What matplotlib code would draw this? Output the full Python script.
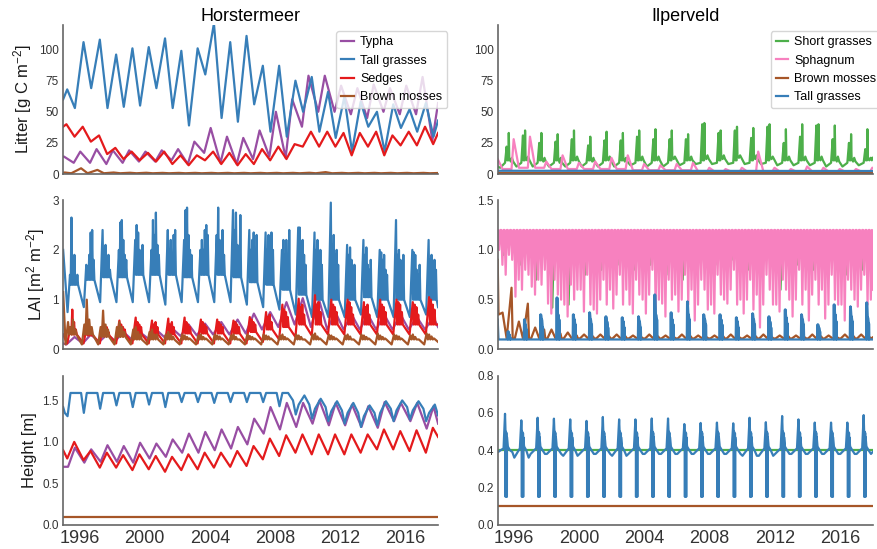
"""Litter, LAI and canopy height per plant functional type, Horstermeer vs Ilperveld."""
import matplotlib

matplotlib.use("Agg")
import matplotlib.pyplot as plt

plt.rcParams["font.family"] = ["Liberation Sans", "DejaVu Sans"]
plt.rcParams["mathtext.fontset"] = "custom"
plt.rcParams["mathtext.rm"] = "Liberation Sans"
plt.rcParams["mathtext.default"] = "regular"

YEARS = list(range(1995, 2018))
T0, T1 = 1995.0, 2018.0

PURPLE, BLUE, RED, BROWN = "#984ea3", "#377eb8", "#e41a1c", "#a65628"
GREEN, PINK = "#4daf4a", "#f781bf"

# ---------------- Horstermeer, litter [g C m-2] (one value per year) ----------------
hm_typha_litter_peak = [14, 18, 20, 19, 19, 18, 19, 20, 26, 37, 30, 29, 35, 50, 60, 79, 79, 71, 69, 72, 69, 71, 78]
hm_typha_litter_trough = [9, 9, 8, 9, 10, 10, 11, 8, 17, 9, 8, 12, 14, 13, 38, 50, 50, 48, 45, 50, 48, 48, 27]
hm_tall_litter_peak = [68, 106, 108, 96, 101, 102, 109, 99, 101, 121, 106, 111, 87, 87, 75, 78, 66, 62, 58, 50, 56, 52, 57]
hm_tall_litter_trough = [53, 69, 53, 54, 55, 69, 53, 39, 80, 45, 42, 56, 34, 30, 50, 34, 29, 18, 38, 18, 37, 34, 30]
hm_sedge_litter_peak = [40, 38, 31, 21, 18, 17, 18, 15, 15, 18, 17, 16, 20, 22, 24, 34, 34, 33, 33, 34, 31, 34, 38]
hm_sedge_litter_trough = [30, 26, 16, 12, 11, 10, 8, 7, 11, 8, 7, 8, 11, 12, 22, 22, 22, 15, 22, 15, 23, 23, 24]
hm_moss_litter_peak = [1.2, 4.6, 3.3, 1.2, 1.0, 1.0, 0.9, 0.9, 0.9, 0.9, 0.9, 0.9, 0.9, 0.9, 0.9, 1.0, 1.5, 0.9, 0.9, 0.9, 0.9, 0.9, 0.9]
hm_moss_litter_trough = [0.6, 0.6, 0.6, 0.6, 0.6, 0.6, 0.6, 0.6, 0.6, 0.6, 0.6, 0.6, 0.6, 0.6, 0.6, 0.6, 0.6, 0.6, 0.6, 0.6, 0.6, 0.6, 0.6]

# ---------------- Horstermeer, LAI [m2 m-2] ----------------
hm_typha_lai_peak = [0.25, 0.3, 0.3, 0.35, 0.35, 0.4, 0.42, 0.5, 0.52, 0.55, 0.6, 0.72, 0.75, 0.95, 1.03, 1.0, 0.75, 0.7, 0.7, 0.7, 0.7, 0.65, 0.65]
hm_typha_lai_trough = [0.1, 0.12, 0.15, 0.17, 0.2, 0.22, 0.25, 0.27, 0.28, 0.3, 0.3, 0.32, 0.4, 0.45, 0.5, 0.45, 0.4, 0.4, 0.4, 0.4, 0.4, 0.4, 0.4]
hm_tall_lai_low = [0.75, 0.85, 0.95, 0.95, 0.95, 0.95, 0.9, 0.95, 0.95, 0.95, 0.95, 0.9, 0.85, 0.8, 0.7, 0.65, 0.65, 0.65, 0.7, 0.65, 0.65, 0.65, 0.7]
hm_tall_lai_high = [1.3, 1.4, 1.45, 1.45, 1.5, 1.5, 1.5, 1.45, 1.5, 1.5, 1.45, 1.35, 1.3, 1.2, 1.1, 1.0, 1.0, 1.0, 1.05, 1.0, 1.0, 1.0, 1.0]
hm_tall_lai_spikes = [
    [1.5, 2.65, 1.6, 1.9, 1.4, 1.5], [1.7, 1.6, 1.9, 2.35, 2.4, 1.8], [2.4, 1.8, 2.1, 1.7, 1.9, 1.6],
    [2.0, 2.55, 2.6, 2.2, 1.9, 1.8], [2.2, 2.5, 2.35, 2.0, 1.8, 2.1], [2.0, 2.6, 2.3, 2.75, 2.1, 1.9],
    [2.4, 2.0, 2.2, 1.9, 2.3, 2.4], [2.2, 2.8, 2.85, 2.3, 2.0, 1.9], [2.0, 2.2, 2.0, 2.4, 2.5, 2.3],
    [2.3, 2.85, 2.2, 2.0, 2.4, 1.9], [2.8, 2.4, 2.75, 2.1, 2.0, 2.7], [2.4, 2.0, 2.2, 2.35, 1.9, 2.3],
    [2.35, 2.0, 2.3, 1.8, 2.35, 2.0], [2.0, 2.2, 1.9, 2.2, 1.7, 2.4], [2.45, 2.45, 2.0, 2.2, 1.9, 1.7],
    [2.35, 2.0, 2.2, 1.8, 2.0, 1.7], [2.95, 2.1, 2.3, 1.9, 2.0, 1.7], [2.1, 1.9, 2.05, 1.8, 1.6, 1.7],
    [2.2, 1.9, 2.05, 1.7, 1.6, 1.8], [2.0, 1.95, 1.8, 1.9, 1.6, 1.5], [2.6, 1.9, 2.0, 1.8, 1.6, 1.9],
    [2.0, 1.95, 1.9, 1.6, 1.5, 1.7], [2.2, 1.8, 1.9, 1.7, 1.8, 1.6],
]
hm_sedge_lai_low = [0.12, 0.12, 0.12, 0.12, 0.12, 0.12, 0.12, 0.12, 0.12, 0.12, 0.12, 0.12, 0.15, 0.2, 0.25, 0.28, 0.3, 0.3, 0.3, 0.3, 0.3, 0.3, 0.3]
hm_sedge_lai_high = [0.3, 0.28, 0.28, 0.3, 0.3, 0.3, 0.3, 0.32, 0.32, 0.32, 0.32, 0.35, 0.4, 0.45, 0.5, 0.5, 0.5, 0.5, 0.5, 0.5, 0.5, 0.5, 0.5]
hm_sedge_lai_spikes = [
    [0.45, 0.8, 0.55, 0.4], [0.45, 0.4, 0.35, 0.3], [0.5, 0.4, 0.45, 0.35], [0.58, 0.5, 0.45, 0.4],
    [0.64, 0.55, 0.5, 0.45], [0.58, 0.5, 0.55, 0.45], [0.62, 0.5, 0.55, 0.45], [0.64, 0.55, 0.5, 0.45],
    [0.6, 0.55, 0.5, 0.45], [0.6, 0.55, 0.5, 0.45], [0.58, 0.55, 0.5, 0.45], [0.65, 0.6, 0.55, 0.5],
    [0.75, 0.65, 0.7, 0.55], [0.9, 0.8, 0.75, 0.65], [1.02, 0.85, 0.9, 0.7], [1.09, 0.9, 0.95, 0.75],
    [1.0, 0.9, 0.85, 0.75], [1.0, 0.95, 0.85, 0.7], [0.95, 0.85, 0.9, 0.7], [1.0, 0.9, 0.85, 0.75],
    [1.0, 0.95, 0.9, 0.75], [0.95, 0.9, 0.85, 0.7], [1.05, 1.0, 0.9, 0.8],
]
hm_moss_lai_high = [0.3, 0.3, 0.25, 0.25, 0.2, 0.2, 0.2, 0.2, 0.2, 0.2, 0.2, 0.2, 0.2, 0.2, 0.2, 0.2, 0.2, 0.2, 0.2, 0.2, 0.2, 0.2, 0.2]
hm_moss_lai_spikes = [
    [0.55, 0.45, 0.6, 0.4], [0.5, 1.0, 0.6, 0.45], [0.45, 0.78, 0.5, 0.4], [0.45, 0.55, 0.45, 0.35],
    [0.4, 0.45, 0.35, 0.3], [0.35, 0.4, 0.3, 0.3], [0.3, 0.35, 0.3, 0.25], [0.3, 0.28, 0.25, 0.22],
    [0.28, 0.3, 0.25, 0.22], [0.3, 0.28, 0.26, 0.22], [0.28, 0.3, 0.25, 0.2], [0.3, 0.27, 0.25, 0.22],
    [0.3, 0.28, 0.26, 0.22], [0.28, 0.3, 0.25, 0.22], [0.3, 0.28, 0.25, 0.2], [0.3, 0.32, 0.26, 0.22],
    [0.3, 0.28, 0.25, 0.22], [0.28, 0.3, 0.26, 0.2], [0.3, 0.28, 0.25, 0.22], [0.32, 0.28, 0.25, 0.22],
    [0.3, 0.28, 0.26, 0.22], [0.28, 0.3, 0.25, 0.2], [0.32, 0.3, 0.26, 0.22],
]

# ---------------- Horstermeer, height [m] ----------------
hm_typha_ht_trough = [0.7, 0.75, 0.76, 0.76, 0.75, 0.8, 0.82, 0.87, 0.87, 0.9, 0.92, 0.97, 1.1, 1.15, 1.18, 1.22, 1.2, 1.2, 1.18, 1.17, 1.25, 1.25, 1.16]
hm_typha_ht_peak = [0.93, 0.91, 0.96, 0.95, 0.99, 0.98, 1.03, 1.1, 1.12, 1.15, 1.18, 1.28, 1.42, 1.47, 1.47, 1.5, 1.47, 1.45, 1.43, 1.48, 1.47, 1.47, 1.43]
hm_tall_ht_early = [1.35, 1.59, 1.59, 1.59, 1.59, 1.59, 1.59, 1.59, 1.59, 1.59, 1.59, 1.59, 1.59, 1.59, 1.5, 1.45, 1.42, 1.38, 1.35, 1.35, 1.4, 1.42, 1.4]
hm_tall_ht_dip = [1.31, 1.35, 1.40, 1.44, 1.42, 1.45, 1.42, 1.48, 1.48, 1.47, 1.48, 1.48, 1.48, 1.43, 1.33, 1.28, 1.25, 1.22, 1.18, 1.2, 1.25, 1.27, 1.25]
hm_tall_ht_mid = [1.59, 1.59, 1.59, 1.59, 1.59, 1.59, 1.59, 1.59, 1.59, 1.59, 1.59, 1.59, 1.59, 1.59, 1.45, 1.4, 1.37, 1.35, 1.31, 1.35, 1.38, 1.38, 1.35]
hm_tall_ht_top = [1.59, 1.59, 1.59, 1.59, 1.59, 1.59, 1.59, 1.59, 1.59, 1.59, 1.59, 1.59, 1.59, 1.59, 1.56, 1.52, 1.49, 1.47, 1.44, 1.49, 1.5, 1.49, 1.45]
hm_sedge_ht_trough = [0.8, 0.78, 0.69, 0.69, 0.66, 0.67, 0.64, 0.66, 0.67, 0.69, 0.70, 0.71, 0.79, 0.83, 0.87, 0.85, 0.85, 0.85, 0.87, 0.91, 0.91, 0.89, 0.87]
hm_sedge_ht_peak = [1.0, 0.89, 0.87, 0.84, 0.85, 0.83, 0.82, 0.85, 0.87, 0.87, 0.89, 0.95, 1.04, 1.08, 1.09, 1.09, 1.09, 1.09, 1.09, 1.15, 1.13, 1.14, 1.17]
hm_moss_ht = [0.1, 0.1]

# ---------------- Ilperveld, litter [g C m-2] ----------------
il_short_litter_low = [5, 6, 6, 6, 6, 6, 6, 6, 7, 6, 6, 7, 8, 8, 8, 8, 8, 7, 7, 7, 6, 6, 7]
il_short_litter_spike_a = [22, 31, 25, 26, 28, 23, 27, 27, 30, 28, 28, 28, 40, 33, 35, 29, 38, 25, 30, 39, 28, 25, 20]
il_short_litter_spike_b = [33, 35, 33, 32, 35, 30, 34, 33, 35, 36, 35, 32, 41, 35, 38, 37, 40, 36, 40, 40, 39, 32, 36]
il_short_litter_plateau = [13, 14, 13, 13, 14, 13, 14, 13, 14, 14, 14, 14, 15, 15, 15, 15, 14, 14, 14, 14, 14, 13, 13]
il_short_litter_autumn = [10, 11, 10, 9, 11, 10, 11, 10, 11, 11, 12, 11, 12, 12, 13, 12, 12, 11, 11, 11, 10, 10, 11]
il_sphag_litter_low = [4, 5, 5, 4, 4, 4, 4, 4, 3, 3, 3, 3, 2, 2, 2, 2, 2, 2, 2, 2, 2, 2, 2]
il_sphag_litter_peak = [28, 30, 10, 15, 9, 10, 13, 15, 8, 7, 8, 9, 5, 4, 5, 18, 5, 4, 6, 5, 4, 4, 5]
il_moss_litter = [0.5, 0.5]
il_tall_litter = [2.6, 2.4]

# ---------------- Ilperveld, LAI [m2 m-2] ----------------
il_short_lai_dip = [0.95, 0.85, 0.7, 0.42, 0.45, 0.75, 0.8, 0.85, 0.8, 0.85, 0.75, 0.7, 0.95, 0.85, 0.9, 0.8, 0.95, 0.6, 0.85, 0.8, 0.9, 0.75, 0.8]
il_sphag_lai_cap = 1.2
il_sphag_lai_dips = [
    [1.0, 0.85, 0.75, 0.95, 0.9], [0.53, 0.7, 0.6, 0.8, 0.75], [0.63, 0.55, 0.7, 0.65, 0.8],
    [0.46, 0.36, 0.7, 0.55, 0.5], [0.45, 0.33, 0.65, 0.5, 0.6], [0.6, 0.38, 0.75, 0.45, 0.4],
    [0.36, 0.5, 0.7, 0.45, 0.6], [0.41, 0.55, 0.75, 0.45, 0.6], [0.45, 0.36, 0.7, 0.55, 0.5],
    [0.36, 0.55, 0.8, 0.4, 0.5], [0.46, 0.33, 0.7, 0.5, 0.55], [0.38, 0.5, 0.75, 0.45, 0.6],
    [0.29, 0.45, 0.7, 0.6, 0.4], [0.45, 0.36, 0.75, 0.55, 0.5], [0.46, 0.6, 0.8, 0.45, 0.5],
    [0.36, 0.5, 0.7, 0.4, 0.55], [0.22, 0.45, 0.75, 0.6, 0.45], [0.45, 0.38, 0.7, 0.6, 0.5],
    [0.33, 0.5, 0.8, 0.45, 0.6], [0.29, 0.55, 0.7, 0.45, 0.6], [0.31, 0.45, 0.75, 0.5, 0.45],
    [0.45, 0.29, 0.7, 0.6, 0.5], [0.43, 0.6, 0.75, 0.45, 0.5],
]
il_moss_lai_base = [0.35, 0.11, 0.11, 0.11, 0.11, 0.11, 0.11, 0.11, 0.11, 0.11, 0.11, 0.11, 0.11, 0.11, 0.11, 0.11, 0.11, 0.11, 0.11, 0.11, 0.11, 0.11, 0.11]
il_moss_lai_hump = [0.37, 0.28, 0.22, 0.2, 0.17, 0.15, 0.15, 0.15, 0.14, 0.15, 0.14, 0.15, 0.14, 0.14, 0.15, 0.14, 0.15, 0.14, 0.14, 0.15, 0.14, 0.15, 0.15]
il_moss_lai_spike = [0.62, 0.46, 0.2, 0.16, 0.14, 0.13, 0.13, 0.13, 0.12, 0.13, 0.12, 0.13, 0.12, 0.13, 0.12, 0.13, 0.12, 0.13, 0.12, 0.13, 0.12, 0.13, 0.12]
il_tall_lai_peak = [0.18, 0.3, 0.35, 0.52, 0.35, 0.37, 0.33, 0.32, 0.33, 0.55, 0.37, 0.48, 0.35, 0.35, 0.32, 0.36, 0.33, 0.4, 0.35, 0.25, 0.45, 0.43, 0.47]
il_tall_lai_shoulder = [0.15, 0.25, 0.3, 0.35, 0.3, 0.3, 0.28, 0.28, 0.28, 0.35, 0.3, 0.35, 0.3, 0.3, 0.28, 0.3, 0.28, 0.32, 0.3, 0.22, 0.35, 0.33, 0.32]
il_tall_lai_tail = [0.12, 0.2, 0.22, 0.3, 0.25, 0.25, 0.22, 0.22, 0.22, 0.3, 0.25, 0.3, 0.25, 0.25, 0.22, 0.25, 0.22, 0.26, 0.25, 0.18, 0.28, 0.28, 0.26]

# ---------------- Ilperveld, height [m] ----------------
il_short_ht = [0.4, 0.4]
il_moss_ht = [0.1, 0.1]
il_tall_ht_low = [0.39, 0.36, 0.38, 0.38, 0.37, 0.38, 0.38, 0.37, 0.38, 0.38, 0.38, 0.38, 0.38, 0.38, 0.38, 0.37, 0.37, 0.38, 0.38, 0.38, 0.38, 0.38, 0.38]
il_tall_ht_peak = [0.595, 0.56, 0.574, 0.569, 0.565, 0.557, 0.578, 0.565, 0.565, 0.57, 0.57, 0.54, 0.546, 0.548, 0.544, 0.574, 0.55, 0.583, 0.565, 0.548, 0.548, 0.548, 0.588]
il_tall_ht_plateau = 0.49
il_tall_ht_cut = 0.15


def _val(vals, i):
    return vals[i] if isinstance(vals, (list, tuple)) else vals


def seasonal(start, end, *anchors):
    """Join the per-year readings; anchors are (phase in year, values)."""
    t, v = [T0], [start]
    for i, yr in enumerate(YEARS):
        for phase, vals in anchors:
            t.append(yr + phase)
            v.append(_val(vals, i))
    t.append(T1)
    v.append(end)
    return t, v


def spiky(start, end, base, base_phase, between, spikes, first, step):
    """Per-year base value followed by a run of read-off spikes."""
    t, v = [T0], [start]
    for i, yr in enumerate(YEARS):
        t.append(yr + base_phase)
        v.append(_val(base, i))
        for k, s in enumerate(spikes[i]):
            p = yr + first + k * step
            t += [p, p + step / 2]
            v += [s, _val(between, i)]
    t.append(T1)
    v.append(end)
    return t, v


def dips(start, end, cap, lows, first, step, width):
    """V-shaped drops from a ceiling value, with short flat stretches between them."""
    t, v = [T0], [start]
    for i, yr in enumerate(YEARS):
        for k, low in enumerate(lows[i]):
            p = yr + first + k * step
            t += [p, p + width, p + 2 * width]
            v += [cap, low, cap]
    t.append(T1)
    v.append(end)
    return t, v


def flat(vals):
    return [T0, T1], vals


panels = {
    (0, 0): [
        ("Typha", PURPLE, seasonal(14, 57, (0.05, hm_typha_litter_peak), (0.65, hm_typha_litter_trough))),
        ("Tall grasses", BLUE, seasonal(60, 43, (0.25, hm_tall_litter_peak), (0.72, hm_tall_litter_trough))),
        ("Sedges", RED, seasonal(38, 33, (0.2, hm_sedge_litter_peak), (0.7, hm_sedge_litter_trough))),
        ("Brown mosses", BROWN, seasonal(1.0, 0.8, (0.1, hm_moss_litter_peak), (0.5, hm_moss_litter_trough))),
    ],
    (0, 1): [
        ("Short grasses", GREEN, seasonal(6, 13, (0.15, il_short_litter_low), (0.45, 9), (0.55, il_short_litter_spike_a),
                                          (0.58, 11), (0.66, 11), (0.68, il_short_litter_spike_b),
                                          (0.71, il_short_litter_plateau), (0.8, il_short_litter_autumn),
                                          (0.87, il_short_litter_plateau), (0.95, il_short_litter_autumn))),
        ("Sphagnum", PINK, seasonal(12, 5, (0.3, il_sphag_litter_low), (0.85, il_sphag_litter_low),
                                    (0.98, il_sphag_litter_peak))),
        ("Brown mosses", BROWN, flat(il_moss_litter)),
        ("Tall grasses", BLUE, flat(il_tall_litter)),
    ],
    (1, 0): [
        ("Typha", PURPLE, seasonal(0.12, 0.45, (0.2, hm_typha_lai_trough), (0.7, hm_typha_lai_peak))),
        ("Tall grasses", BLUE, spiky(2.0, 0.85, hm_tall_lai_low, 0.27, hm_tall_lai_high, hm_tall_lai_spikes, 0.42, 0.09)),
        ("Sedges", RED, spiky(0.3, 0.5, hm_sedge_lai_low, 0.25, hm_sedge_lai_high, hm_sedge_lai_spikes, 0.45, 0.11)),
        ("Brown mosses", BROWN, spiky(1.15, 0.15, 0.1, 0.15, hm_moss_lai_high, hm_moss_lai_spikes, 0.3, 0.15)),
    ],
    (1, 1): [
        ("Short grasses", GREEN, seasonal(1.1, 1.1, (0.25, 1.1), (0.35, il_short_lai_dip), (0.45, 1.1))),
        ("Sphagnum", PINK, dips(1.2, 0.6, il_sphag_lai_cap, il_sphag_lai_dips, 0.02, 0.2, 0.07)),
        ("Brown mosses", BROWN, seasonal(0.9, 0.12, (0.05, il_moss_lai_base), (0.3, il_moss_lai_hump), (0.55, 0.11),
                                         (0.85, il_moss_lai_spike), (0.92, 0.11))),
        ("Tall grasses", BLUE, seasonal(0.3, 0.1, (0.05, 0.1), (0.6, 0.1), (0.62, il_tall_lai_peak), (0.64, 0.1),
                                        (0.66, il_tall_lai_peak), (0.7, il_tall_lai_shoulder), (0.71, 0.1),
                                        (0.72, il_tall_lai_shoulder), (0.76, il_tall_lai_tail), (0.77, 0.1),
                                        (0.78, il_tall_lai_tail), (0.8, 0.1))),
    ],
    (2, 0): [
        ("Typha", PURPLE, seasonal(0.7, 1.22, (0.3, hm_typha_ht_trough), (0.72, hm_typha_ht_peak))),
        ("Tall grasses", BLUE, seasonal(1.42, 1.32, (0.1, hm_tall_ht_early), (0.27, hm_tall_ht_dip),
                                        (0.45, hm_tall_ht_mid), (0.8, hm_tall_ht_top))),
        ("Sedges", RED, seasonal(0.9, 1.06, (0.25, hm_sedge_ht_trough), (0.68, hm_sedge_ht_peak))),
        ("Brown mosses", BROWN, flat(hm_moss_ht)),
    ],
    (2, 1): [
        ("Short grasses", GREEN, flat(il_short_ht)),
        ("Brown mosses", BROWN, flat(il_moss_ht)),
        ("Tall grasses", BLUE, seasonal(0.39, 0.39, (0.02, il_tall_ht_low), (0.36, 0.41), (0.45, il_tall_ht_peak),
                                        (0.48, 0.5), (0.485, il_tall_ht_cut), (0.49, 0.5),
                                        (0.56, il_tall_ht_plateau), (0.565, il_tall_ht_cut), (0.57, 0.47),
                                        (0.62, 0.42), (0.75, 0.4), (0.9, il_tall_ht_low))),
    ],
}

ylims = {(0, 0): (0, 120), (0, 1): (0, 120), (1, 0): (0, 3), (1, 1): (0, 1.5), (2, 0): (0, 1.8), (2, 1): (0, 0.8)}
yticks = {
    (0, 0): [0, 25, 50, 75, 100], (0, 1): [0, 25, 50, 75, 100],
    (1, 0): [0, 1, 2, 3], (1, 1): [0, 0.5, 1.0, 1.5],
    (2, 0): [0, 0.5, 1.0, 1.5], (2, 1): [0, 0.2, 0.4, 0.6, 0.8],
}
ylabels = ["Litter [g C m$^{-2}$]", "LAI [m$^{2}$ m$^{-2}$]", "Height [m]"]


def main():
    fig, axes = plt.subplots(3, 2, figsize=(8.77, 5.49), dpi=100)
    fig.subplots_adjust(left=0.072, right=0.995, bottom=0.044, top=0.955, wspace=0.159, hspace=0.175)

    for (r, c), series in panels.items():
        ax = axes[r, c]
        for label, color, (t, v) in series:
            ax.plot(t, v, color=color, lw=1.6, label=label)
        ax.set_xlim(T0, T1)
        ax.set_ylim(*ylims[(r, c)])
        ax.set_yticks(yticks[(r, c)])
        ax.set_xticks([1996, 2000, 2004, 2008, 2012, 2016])
        ax.tick_params(length=0, labelsize=8.5, colors="0.2", pad=3)
        ax.tick_params(axis="x", labelsize=13, pad=4)
        if r < 2:
            ax.set_xticklabels([])
        for side in ("top", "right"):
            ax.spines[side].set_visible(False)
        for side in ("left", "bottom"):
            ax.spines[side].set_color("0.4")
            ax.spines[side].set_linewidth(1.2)
        if c == 0:
            ax.set_ylabel(ylabels[r], fontsize=12, color="0.1")

    axes[0, 0].set_title("Horstermeer", fontsize=13, pad=2)
    axes[0, 1].set_title("Ilperveld", fontsize=13, pad=2)
    for ax in axes[0]:
        ax.legend(loc="upper right", bbox_to_anchor=(1.024, 0.955), borderaxespad=0, fontsize=9,
                  handlelength=1.0, handletextpad=0.5, framealpha=0.8, edgecolor="0.8")

    fig.savefig("out.png", dpi=100)


if __name__ == "__main__":
    main()
